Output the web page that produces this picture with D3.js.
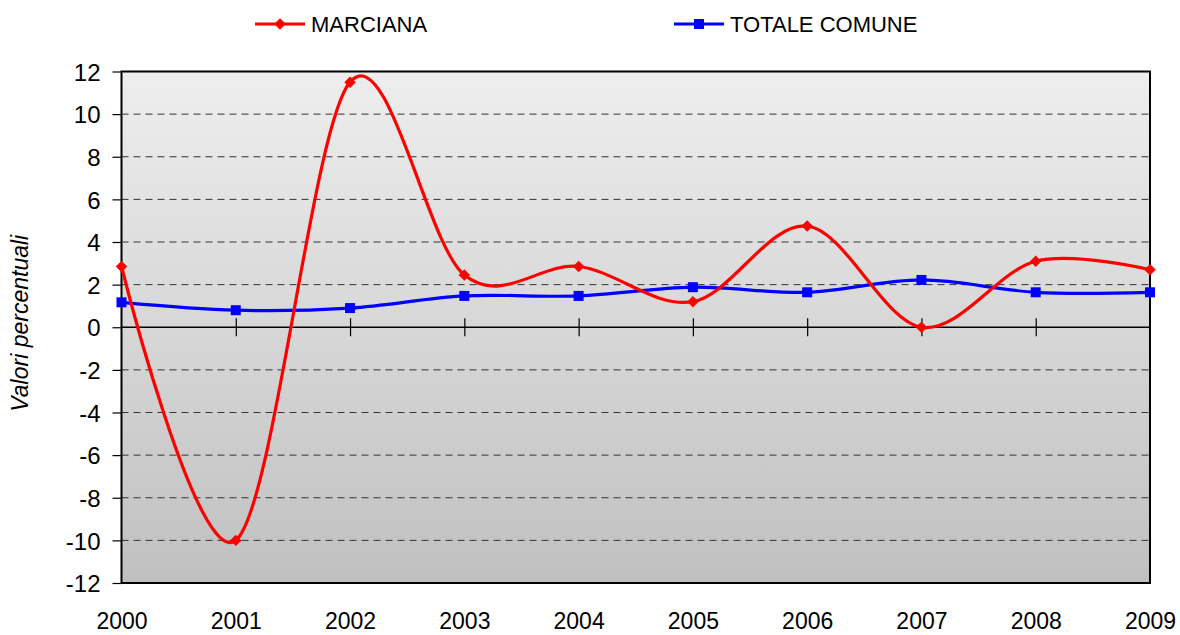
<!DOCTYPE html>
<html>
<head>
<meta charset="utf-8">
<script src="https://cdn.jsdelivr.net/npm/d3@7"></script>
<style>
  body { margin: 0; background: #fff; }
  text { font-family: "Liberation Sans", Arial, sans-serif; fill: #000; }
</style>
</head>
<body>
<div id="chart"></div>
<script>
const years = [2000, 2001, 2002, 2003, 2004, 2005, 2006, 2007, 2008, 2009];
const marciana = [2.85, -10.0, 11.5, 2.45, 2.85, 1.2, 4.75, 0.0, 3.1, 2.7];
const totaleComune = [1.17, 0.8, 0.9, 1.47, 1.47, 1.88, 1.64, 2.22, 1.64, 1.64];
const yTicks = [-12, -10, -8, -6, -4, -2, 0, 2, 4, 6, 8, 10, 12];
const seriesNames = ["MARCIANA", "TOTALE COMUNE"];

const W = 1180, H = 635;
const margin = { top: 71.5, right: 30, bottom: 52, left: 121.5 };
const width = W - margin.left - margin.right;
const height = H - margin.top - margin.bottom;

const svg = d3.select("#chart")
    .append("svg")
    .attr("width", W)
    .attr("height", H);

const defs = svg.append("defs");
const grad = defs.append("linearGradient")
    .attr("id", "bg")
    .attr("x1", 0).attr("y1", 0).attr("x2", 0).attr("y2", 1);
grad.append("stop").attr("offset", "0%").attr("stop-color", "#eeeeee");
grad.append("stop").attr("offset", "100%").attr("stop-color", "#c0c0c0");

const g = svg.append("g")
    .attr("transform", `translate(${margin.left},${margin.top})`);

const x = d3.scaleLinear()
    .domain([2000, 2009])
    .range([0, width]);

const y = d3.scaleLinear()
    .domain([-12, 12])
    .range([height, 0]);

// plot background
g.append("rect")
    .attr("width", width)
    .attr("height", height)
    .attr("fill", "url(#bg)");

// dashed gridlines
g.selectAll(".grid")
    .data(yTicks.filter(d => d !== 0 && d !== 12 && d !== -12))
    .enter()
    .append("line")
    .attr("x1", 0)
    .attr("x2", width)
    .attr("y1", d => y(d))
    .attr("y2", d => y(d))
    .attr("stroke", "#333")
    .attr("stroke-width", 1)
    .attr("stroke-dasharray", "7,5");

// y axis (hyphen minus, like the original)
const yAxis = g.append("g")
    .call(d3.axisLeft(y).tickValues(yTicks).tickSize(9).tickPadding(12).tickFormat(d => String(d)));
yAxis.select(".domain").remove();
yAxis.selectAll(".tick line").attr("stroke", "#000").attr("stroke-width", 1.2);
yAxis.selectAll(".tick text")
    .attr("fill", "#000")
    .style("font-size", "24px")
    .attr("dy", "0.36em");

// zero line with crossing ticks
const zeroAxis = g.append("g")
    .attr("transform", `translate(0,${y(0)})`)
    .call(d3.axisBottom(x).tickValues(years.slice(1, -1)).tickSize(9).tickFormat(""));
zeroAxis.select(".domain").attr("stroke", "#000").attr("stroke-width", 1.3).attr("d", `M0,0H${width}`);
zeroAxis.selectAll(".tick line").attr("y1", -9).attr("y2", 9).attr("stroke", "#000").attr("stroke-width", 1.2);

// year labels
const xAxis = g.append("g")
    .attr("transform", `translate(0,${height})`)
    .call(d3.axisBottom(x).tickValues(years).tickSize(0).tickPadding(30).tickFormat(d => String(d)));
xAxis.select(".domain").remove();
xAxis.selectAll(".tick text")
    .attr("fill", "#000")
    .style("font-size", "23px");

// frame
g.append("rect")
    .attr("width", width)
    .attr("height", height)
    .attr("fill", "none")
    .attr("stroke", "#000")
    .attr("stroke-width", 2);

// lines
const line = d3.line()
    .x((d, i) => x(years[i]))
    .y(d => y(d))
    .curve(d3.curveCatmullRom.alpha(0));

g.append("path")
    .datum(totaleComune)
    .attr("d", line)
    .attr("fill", "none")
    .attr("stroke", "#0000ff")
    .attr("stroke-width", 3.2);

g.selectAll(".sq")
    .data(totaleComune)
    .enter()
    .append("rect")
    .attr("x", (d, i) => x(years[i]) - 5)
    .attr("y", d => y(d) - 5)
    .attr("width", 10)
    .attr("height", 10)
    .attr("fill", "#0000ff");

g.append("path")
    .datum(marciana)
    .attr("d", line)
    .attr("fill", "none")
    .attr("stroke", "#ff0000")
    .attr("stroke-width", 3.2);

const diamond = d3.symbol().type(d3.symbolSquare).size(66);
g.selectAll(".dm")
    .data(marciana)
    .enter()
    .append("path")
    .attr("d", diamond)
    .attr("transform", (d, i) => `translate(${x(years[i])},${y(d)}) rotate(45)`)
    .attr("fill", "#ff0000");

// y title
svg.append("text")
    .attr("transform", `translate(28,${margin.top + height / 2 - 4}) rotate(-90)`)
    .attr("text-anchor", "middle")
    .style("font-size", "23px")
    .style("font-style", "italic")
    .text("Valori percentuali");

// legend
const legend = [
    { name: seriesNames[0], color: "#ff0000", x0: 255, shape: "diamond" },
    { name: seriesNames[1], color: "#0000ff", x0: 674, shape: "square" }
];
const ly = 24;
legend.forEach(l => {
    const lg = svg.append("g");
    lg.append("line")
        .attr("x1", l.x0).attr("x2", l.x0 + 50)
        .attr("y1", ly).attr("y2", ly)
        .attr("stroke", l.color)
        .attr("stroke-width", 3.2);
    if (l.shape === "diamond") {
        lg.append("path")
            .attr("d", diamond)
            .attr("transform", `translate(${l.x0 + 25},${ly}) rotate(45)`)
            .attr("fill", l.color);
    } else {
        lg.append("rect")
            .attr("x", l.x0 + 25 - 5).attr("y", ly - 5)
            .attr("width", 10).attr("height", 10)
            .attr("fill", l.color);
    }
    lg.append("text")
        .attr("x", l.x0 + 56)
        .attr("y", ly)
        .attr("dy", "0.36em")
        .style("font-size", "22px")
        .text(l.name);
});
</script>
</body>
</html>
